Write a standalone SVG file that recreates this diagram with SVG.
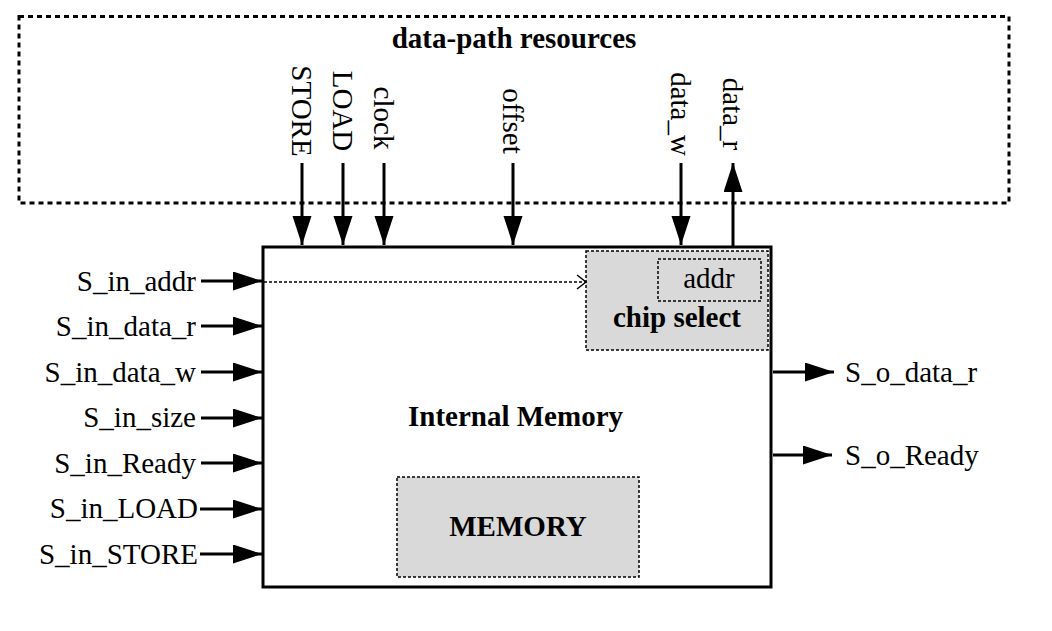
<svg xmlns="http://www.w3.org/2000/svg" width="1052" height="631" viewBox="0 0 1052 631">
<defs>
<marker id="ah" markerWidth="30" markerHeight="20" refX="29" refY="9.5" orient="auto" markerUnits="userSpaceOnUse">
<path d="M0,0 L29,9.5 L0,19 Z" fill="#000"/>
</marker>
<marker id="oh" markerWidth="12" markerHeight="16" refX="10" refY="8" orient="auto" markerUnits="userSpaceOnUse">
<path d="M1,1 L10,8 L1,15" fill="none" stroke="#000" stroke-width="1.5"/>
</marker>
</defs>
<style>
text{font-family:"Liberation Serif","Times New Roman",serif;font-size:29px;fill:#000}
.b{font-weight:bold}
.sig{stroke:#000;stroke-width:3;fill:none}
.dotbox{fill:#d9d9d9;stroke:#000;stroke-width:1.5;stroke-dasharray:3 2}
</style>
<g id="datapath">
<rect x="19" y="16.5" width="990" height="186.5" fill="none" stroke="#000" stroke-width="3" stroke-dasharray="5 4"/>
<text class="b" x="514" y="48" text-anchor="middle">data-path resources</text>
<text transform="translate(292,111) rotate(90)" text-anchor="middle">STORE</text>
<text transform="translate(333,111) rotate(90)" text-anchor="middle">LOAD</text>
<text transform="translate(374,118) rotate(90)" text-anchor="middle">clock</text>
<text transform="translate(503,121) rotate(90)" text-anchor="middle">offset</text>
<text transform="translate(671,114) rotate(90)" text-anchor="middle">data_w</text>
<text transform="translate(723,114) rotate(90)" text-anchor="middle">data_r</text>
</g>
<g id="internal-memory">
<rect x="263" y="247" width="508" height="340" fill="#fff" stroke="#000" stroke-width="3"/>
<text class="b" x="515.5" y="426" text-anchor="middle">Internal Memory</text>
</g>
<g id="chip-select">
<rect class="dotbox" x="586" y="251" width="182" height="99"/>
<rect x="658" y="259" width="103" height="42" fill="none" stroke="#000" stroke-width="1.5" stroke-dasharray="3 2"/>
<text x="709" y="288" text-anchor="middle">addr</text>
<text class="b" x="677" y="327" text-anchor="middle">chip select</text>
</g>
<g id="memory">
<rect class="dotbox" x="397" y="477" width="242" height="100"/>
<text class="b" x="518" y="536" text-anchor="middle">MEMORY</text>
</g>
<g id="inputs">
<text x="196" y="291" text-anchor="end">S_in_addr</text>
<text x="196" y="336" text-anchor="end">S_in_data_r</text>
<text x="196" y="382" text-anchor="end">S_in_data_w</text>
<text x="196" y="427" text-anchor="end">S_in_size</text>
<text x="196" y="473" text-anchor="end">S_in_Ready</text>
<text x="198" y="518" text-anchor="end">S_in_LOAD</text>
<text x="198" y="564" text-anchor="end">S_in_STORE</text>
</g>
<g id="outputs">
<text x="845" y="382">S_o_data_r</text>
<text x="845" y="465">S_o_Ready</text>
</g>
<g id="connectors">
<line class="sig" x1="302" y1="163" x2="302" y2="245" marker-end="url(#ah)"/>
<line class="sig" x1="343" y1="163" x2="343" y2="245" marker-end="url(#ah)"/>
<line class="sig" x1="384" y1="163" x2="384" y2="245" marker-end="url(#ah)"/>
<line class="sig" x1="513" y1="163" x2="513" y2="245" marker-end="url(#ah)"/>
<line class="sig" x1="681" y1="163" x2="681" y2="245" marker-end="url(#ah)"/>
<line class="sig" x1="733" y1="247" x2="733" y2="163" marker-end="url(#ah)"/>
<line class="sig" x1="201" y1="281" x2="262" y2="281" marker-end="url(#ah)"/>
<line class="sig" x1="201" y1="326" x2="262" y2="326" marker-end="url(#ah)"/>
<line class="sig" x1="201" y1="372" x2="262" y2="372" marker-end="url(#ah)"/>
<line class="sig" x1="201" y1="418" x2="262" y2="418" marker-end="url(#ah)"/>
<line class="sig" x1="201" y1="463" x2="262" y2="463" marker-end="url(#ah)"/>
<line class="sig" x1="200" y1="509" x2="262" y2="509" marker-end="url(#ah)"/>
<line class="sig" x1="200" y1="554" x2="262" y2="554" marker-end="url(#ah)"/>
<line class="sig" x1="773" y1="372" x2="834" y2="372" marker-end="url(#ah)"/>
<line class="sig" x1="773" y1="455" x2="832" y2="455" marker-end="url(#ah)"/>
<line x1="264" y1="282" x2="586" y2="282" stroke="#000" stroke-width="1.5" stroke-dasharray="3 2" marker-end="url(#oh)"/>
</g>
</svg>
